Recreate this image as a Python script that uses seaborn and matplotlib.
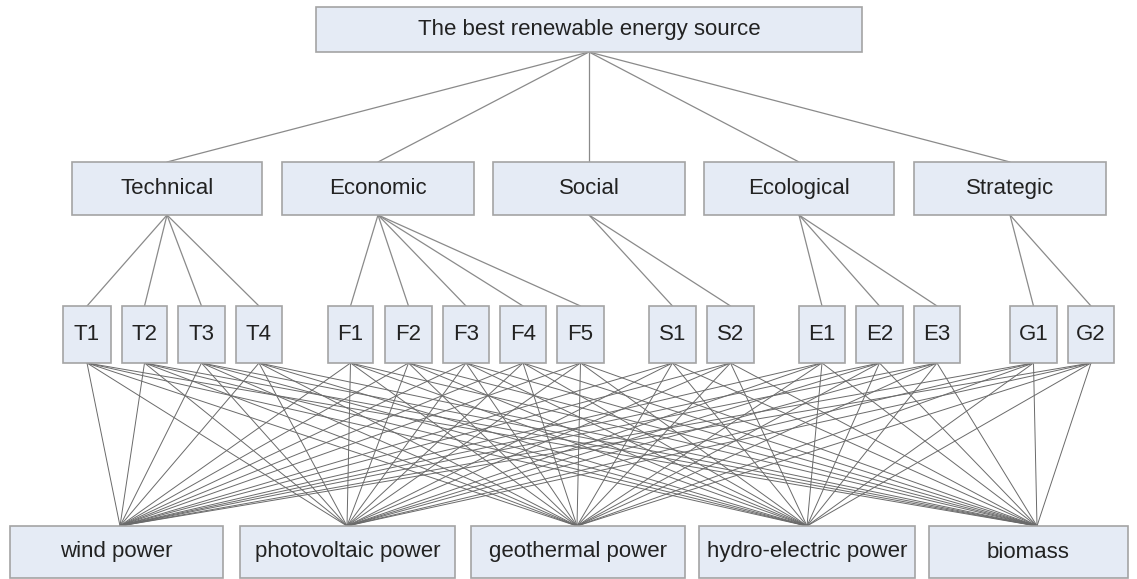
import matplotlib
matplotlib.use("Agg")
import matplotlib.pyplot as plt
from matplotlib.patches import Rectangle
import seaborn as sns
import pandas as pd

# ---- data (labels / structure) ----
goal = "The best renewable energy source"
criteria = ["Technical", "Economic", "Social", "Ecological", "Strategic"]
subcriteria = {
    "Technical": ["T1", "T2", "T3", "T4"],
    "Economic": ["F1", "F2", "F3", "F4", "F5"],
    "Social": ["S1", "S2"],
    "Ecological": ["E1", "E2", "E3"],
    "Strategic": ["G1", "G2"],
}
alternatives = ["wind power", "photovoltaic power", "geothermal power",
                "hydro-electric power", "biomass"]

# ---- layout (pixel coordinates, y downward) ----
goal_box = (316, 862, 7, 52)
crit_y = (162, 215)
crit_x = [(72, 262), (282, 474), (493, 685), (704, 894), (914, 1106)]
sub_y = (306, 363)
sub_x = [(63, 111), (122, 167), (178, 225), (236, 282),
         (328, 373), (385, 432), (443, 489), (500, 546), (557, 604),
         (649, 696), (707, 754),
         (799, 845), (856, 903), (914, 960),
         (1010, 1057), (1068, 1114)]
alt_y = (526, 578)
alt_x = [(10, 223), (240, 455), (471, 685), (699, 915), (929, 1128)]
alt_anchor = [120, 347, 577, 807, 1037]

W, H = 1137, 579
sns.set_theme(style="white")
plt.rcParams["font.family"] = ["Liberation Sans", "DejaVu Sans"]

fig = plt.figure(figsize=(W / 100, H / 100), dpi=100)
ax = fig.add_axes([0, 0, 1, 1])

# ---- build edges ----
rows = []
eid = 0
def add_edge(x0, y0, x1, y1, level):
    global eid
    rows.append({"x": x0, "y": y0, "edge": eid, "level": level})
    rows.append({"x": x1, "y": y1, "edge": eid, "level": level})
    eid += 1

gcx = (goal_box[0] + goal_box[1]) / 2
for (a, b) in crit_x:
    add_edge(gcx, goal_box[3], (a + b) / 2, crit_y[0], "top")

sub_names = [s for c in criteria for s in subcriteria[c]]
k = 0
for ci, c in enumerate(criteria):
    cx = sum(crit_x[ci]) / 2
    for s in subcriteria[c]:
        sx = sum(sub_x[k]) / 2
        add_edge(cx, crit_y[1], sx, sub_y[0], "mid")
        k += 1

for si in range(len(sub_names)):
    sx = sum(sub_x[si]) / 2
    for ai in range(len(alternatives)):
        add_edge(sx, sub_y[1], alt_anchor[ai], alt_y[0], "bottom")

edges = pd.DataFrame(rows)
for lvl, lw, col in [("top", 0.9, "#8a8a8a"), ("mid", 0.9, "#8a8a8a"),
                     ("bottom", 0.7, "#6a6a6a")]:
    d = edges[edges["level"] == lvl]
    sns.lineplot(data=d, x="x", y="y", units="edge", estimator=None,
                 sort=False, color=col, linewidth=lw, ax=ax, legend=False)

ax.set_xlim(0, W)
ax.set_ylim(H, 0)
ax.axis("off")

# ---- boxes ----
FILL = "#e5ebf5"
EDGE = "#a4a4a4"
TXT = "#222222"
FS = 16

def box(x0, x1, y0, y1, label):
    ax.add_patch(Rectangle((x0, y0), x1 - x0, y1 - y0, facecolor=FILL,
                           edgecolor=EDGE, linewidth=1.2, zorder=3))
    ax.text((x0 + x1) / 2, (y0 + y1) / 2, label, ha="center", va="center",
            fontsize=FS, color=TXT, zorder=4)

box(goal_box[0], goal_box[1], goal_box[2], goal_box[3], goal)
for (a, b), c in zip(crit_x, criteria):
    box(a, b, crit_y[0], crit_y[1], c)
for (a, b), s in zip(sub_x, sub_names):
    box(a, b, sub_y[0], sub_y[1], s)
for (a, b), t in zip(alt_x, alternatives):
    box(a, b, alt_y[0], alt_y[1], t)

fig.savefig("out.png", dpi=100, facecolor="white")
